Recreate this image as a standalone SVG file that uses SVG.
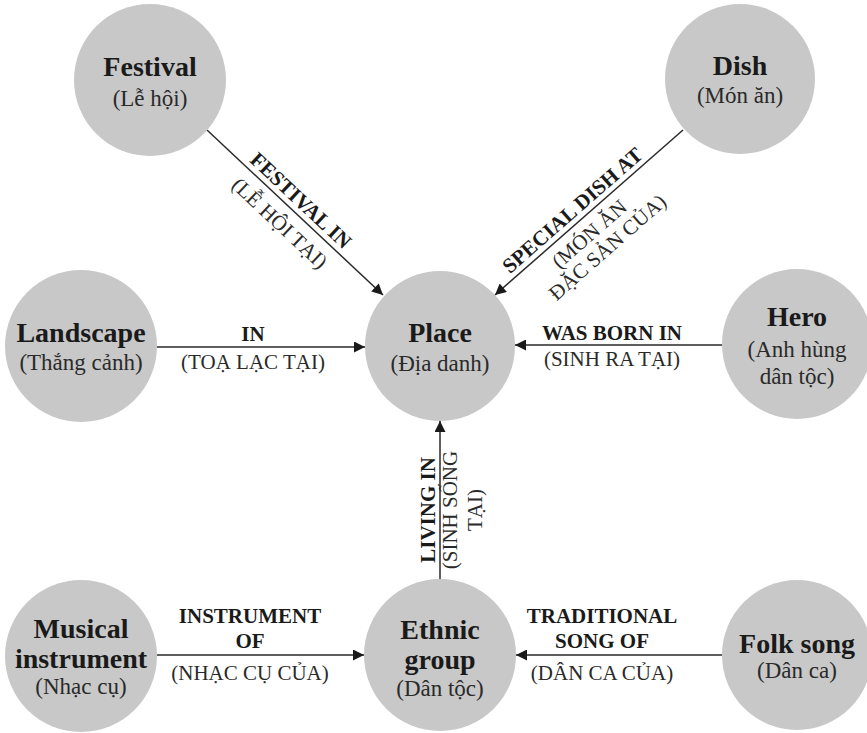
<svg xmlns="http://www.w3.org/2000/svg" width="867" height="733" viewBox="0 0 867 733">
<style>
.node{fill:#c8c8c8}
.t{font-family:"Liberation Serif","Times New Roman",serif;font-weight:bold;font-size:28px;fill:#1a1a1a;text-anchor:middle}
.s{font-family:"Liberation Serif","Times New Roman",serif;font-size:23px;fill:#2a2a2a;text-anchor:middle}
.eb{font-family:"Liberation Serif","Times New Roman",serif;font-weight:bold;font-size:21px;fill:#1a1a1a;text-anchor:middle}
.er{font-family:"Liberation Serif","Times New Roman",serif;font-size:21px;fill:#2a2a2a;text-anchor:middle}
.edge{stroke:#2a2a2a;stroke-width:1.5;fill:none;marker-end:url(#arr)}
</style>
<defs>
<marker id="arr" viewBox="0 0 10 10" refX="10" refY="5" markerWidth="15" markerHeight="11" markerUnits="userSpaceOnUse" orient="auto">
<path d="M0,0 L10,5 L0,10 z" fill="#1a1a1a"/>
</marker>
</defs>
<rect width="867" height="733" fill="#ffffff"/>
<g id="connectors">
<line class="edge" x1="207" y1="130" x2="383" y2="295"/>
<line class="edge" x1="683" y1="130" x2="495" y2="295"/>
<line class="edge" x1="157" y1="347" x2="365" y2="347"/>
<line class="edge" x1="722" y1="345" x2="515" y2="345"/>
<line class="edge" x1="440" y1="579" x2="440" y2="421"/>
<line class="edge" x1="157" y1="655" x2="364" y2="655"/>
<line class="edge" x1="722" y1="655" x2="516" y2="655"/>
<g transform="translate(292,210) rotate(43.15)">
<text class="eb" x="0" y="-6">FESTIVAL IN</text>
<text class="er" x="0" y="25">(LỄ HỘI TẠI)</text>
</g>
<g transform="translate(581,220) rotate(-41.27)">
<text class="eb" x="0" y="-6">SPECIAL DISH AT</text>
<text class="er" x="-3" y="23">(MÓN ĂN</text>
<text class="er" x="2" y="45">ĐẶC SẢN CỦA)</text>
</g>
<text class="eb" x="253" y="341">IN</text>
<text class="er" x="253" y="369">(TOẠ LẠC TẠI)</text>
<text class="eb" x="612" y="340">WAS BORN IN</text>
<text class="er" x="612" y="366">(SINH RA TẠI)</text>
<g transform="translate(440,510) rotate(-90)">
<text class="eb" x="0" y="-5">LIVING IN</text>
<text class="er" x="0" y="17">(SINH SỐNG</text>
<text class="er" x="0" y="42">TẠI)</text>
</g>
<text class="eb" x="250" y="623">INSTRUMENT</text>
<text class="eb" x="250" y="648">OF</text>
<text class="er" x="250" y="680">(NHẠC CỤ CỦA)</text>
<text class="eb" x="602" y="623">TRADITIONAL</text>
<text class="eb" x="602" y="648">SONG OF</text>
<text class="er" x="602" y="680">(DÂN CA CỦA)</text>
</g>
<g id="festival"><circle class="node" cx="150" cy="80" r="76"/><text class="t" x="150" y="76">Festival</text><text class="s" x="150" y="106">(Lễ hội)</text></g>
<g id="dish"><circle class="node" cx="740" cy="79" r="75"/><text class="t" x="740" y="75">Dish</text><text class="s" x="740" y="103">(Món ăn)</text></g>
<g id="landscape"><circle class="node" cx="81" cy="346" r="76"/><text class="t" x="81" y="342">Landscape</text><text class="s" x="81" y="370">(Thắng cảnh)</text></g>
<g id="place"><circle class="node" cx="440" cy="346" r="75"/><text class="t" x="440" y="342">Place</text><text class="s" x="440" y="371">(Địa danh)</text></g>
<g id="hero"><circle class="node" cx="797" cy="344" r="75"/><text class="t" x="797" y="326">Hero</text><text class="s" x="797" y="357">(Anh hùng</text><text class="s" x="797" y="384">dân tộc)</text></g>
<g id="musical"><circle class="node" cx="81" cy="656" r="76"/><text class="t" x="81" y="638">Musical</text><text class="t" x="81" y="668">instrument</text><text class="s" x="81" y="694">(Nhạc cụ)</text></g>
<g id="ethnic"><circle class="node" cx="440" cy="655" r="76"/><text class="t" x="440" y="639">Ethnic</text><text class="t" x="440" y="669">group</text><text class="s" x="440" y="696">(Dân tộc)</text></g>
<g id="folksong"><circle class="node" cx="797" cy="655" r="75"/><text class="t" x="797" y="653">Folk song</text><text class="s" x="797" y="678">(Dân ca)</text></g>
</svg>
